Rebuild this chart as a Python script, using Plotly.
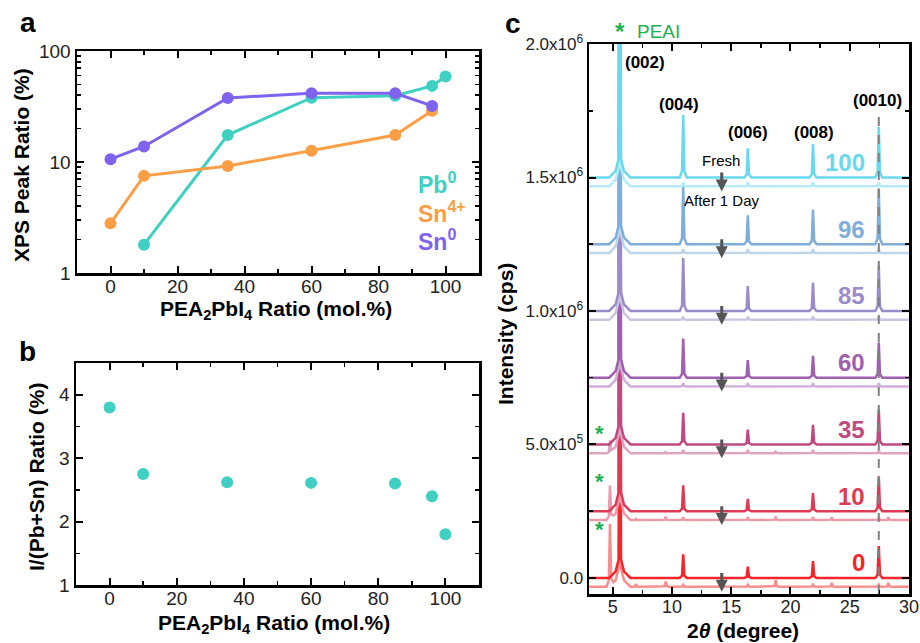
import numpy as np
import plotly.graph_objects as go

FONT = "Liberation Sans"

# ---------------- Panel a data ----------------
pea_ratio = [0, 10, 35, 60, 85, 96, 100]
pb0_x = [10, 35, 60, 85, 96, 100]
pb0_y = [1.8, 17.5, 38.0, 39.5, 48.5, 59.0]
sn4_x = [0, 10, 35, 60, 85, 96]
sn4_y = [2.8, 7.5, 9.2, 12.6, 17.5, 29.0]
sn0_x = [0, 10, 35, 60, 85, 96]
sn0_y = [10.6, 13.8, 37.8, 41.6, 41.6, 32.0]

# ---------------- Panel b data ----------------
iodide_ratio = [3.80, 2.75, 2.62, 2.61, 2.60, 2.40, 1.80]

# ---------------- Panel c data ----------------
samples = ["0", "10", "35", "60", "85", "96", "100"]
fresh_offset = [0, 2.5e5, 5.0e5, 7.5e5, 1.0e6, 1.25e6, 1.5e6]
aged_shift = 3.3e4
fresh_colors = ["#f5262a", "#dc3a55", "#c04a80", "#a060b0", "#9a8cc9", "#7eaed9", "#6ad8ee"]
aged_colors = ["#f88d8e", "#ec9aa8", "#dfa3bf", "#cfaed7", "#cbc4e4", "#bed6ec", "#b3ecf6"]

peak_pos = [5.6, 10.95, 16.4, 21.9, 27.45]        # (002) (004) (006) (008) (0010)
fresh_h002 = [2.3e6] * 7
fresh_h004 = [0.089e6, 0.097e6, 0.119e6, 0.147e6, 0.198e6, 0.220e6, 0.234e6]
fresh_h006 = [0.042e6, 0.046e6, 0.056e6, 0.066e6, 0.093e6, 0.108e6, 0.109e6]
fresh_h008 = [0.063e6, 0.068e6, 0.074e6, 0.082e6, 0.106e6, 0.130e6, 0.125e6]
fresh_h0010 = [0.120e6, 0.131e6, 0.132e6, 0.132e6, 0.170e6, 0.210e6, 0.190e6]

aged_h002 = [0.35e6] * 7
aged_h_small = [0.008e6, 0.010e6, 0.012e6, 0.012e6, 0.012e6, 0.015e6, 0.015e6]
peai_pos = [4.77, 6.97, 9.47, 18.75, 23.48, 28.26]
peai_h_0 = [0.233e6, 0.010e6, 0.020e6, 0.025e6, 0.015e6, 0.015e6]
peai_h_10 = [0.126e6, 0.004e6, 0.012e6, 0.012e6, 0.010e6, 0.010e6]
peai_h_35 = [0.045e6, 0.0, 0.005e6, 0.006e6, 0.0, 0.0]
peai_heights = [peai_h_0, peai_h_10, peai_h_35, None, None, None, None]

peak_labels = ["(002)", "(004)", "(006)", "(008)", "(0010)"]
peak_label_x = [5.85, 10.6, 16.45, 21.95, 27.3]
peak_label_y = [1.93e6, 1.775e6, 1.67e6, 1.67e6, 1.79e6]

X_MIN, X_MAX = 3.0, 30.0


def profile(pos, h, wide=False):
    if wide:
        dx = [-0.9, -0.35, -0.1, 0.0, 0.1, 0.35, 0.9]
        dy = [0.0, 0.025e6, 0.07e6, h, 0.07e6, 0.025e6, 0.0]
    else:
        dx = [-0.3, -0.1, 0.0, 0.1, 0.3]
        dy = [0.0, 0.1 * h, h, 0.1 * h, 0.0]
    return [pos + d for d in dx], dy


def pattern(base, peaks):
    xs = [X_MIN, X_MAX]
    parts = []
    for p, h, wide in peaks:
        if h <= 0:
            continue
        px, py = profile(p, h, wide)
        xs += px
        parts.append((px, py))
    xs = np.array(sorted(set(xs)))
    ys = np.full(xs.shape, float(base))
    for px, py in parts:
        ys += np.interp(xs, px, py, left=0.0, right=0.0)
    return xs, ys


fig = go.Figure()

# ---- Panel a traces ----
series_a = [
    (pb0_x, pb0_y, "#3fcfc3", "Pb0"),
    (sn4_x, sn4_y, "#fb9e45", "Sn4+"),
    (sn0_x, sn0_y, "#7f63ee", "Sn0"),
]
for xs, ys, col, nm in series_a:
    fig.add_trace(go.Scatter(x=xs, y=ys, mode="lines+markers", name=nm,
                             line=dict(color=col, width=3),
                             marker=dict(color=col, size=12),
                             xaxis="x", yaxis="y", showlegend=False))

# ---- Panel b trace ----
fig.add_trace(go.Scatter(x=pea_ratio, y=iodide_ratio, mode="markers",
                         marker=dict(color="#3fcfc3", size=12),
                         xaxis="x2", yaxis="y2", showlegend=False))

# ---- Panel c traces ----
for i, s in enumerate(samples):
    base_f = fresh_offset[i]
    base_a = base_f - aged_shift
    aged_peaks = [(peak_pos[0], aged_h002[i], True)]
    aged_peaks += [(p, aged_h_small[i], False) for p in peak_pos[1:]]
    if peai_heights[i] is not None:
        aged_peaks += [(p, h, False) for p, h in zip(peai_pos, peai_heights[i])]
    ax_, ay_ = pattern(base_a, aged_peaks)
    fig.add_trace(go.Scatter(x=ax_, y=ay_, mode="lines",
                             line=dict(color=aged_colors[i], width=2.5),
                             xaxis="x3", yaxis="y3", showlegend=False))
    fresh_peaks = [(peak_pos[0], fresh_h002[i], True),
                   (peak_pos[1], fresh_h004[i], False),
                   (peak_pos[2], fresh_h006[i], False),
                   (peak_pos[3], fresh_h008[i], False),
                   (peak_pos[4], fresh_h0010[i], False)]
    fx, fy = pattern(base_f, fresh_peaks)
    fig.add_trace(go.Scatter(x=fx, y=fy, mode="lines",
                             line=dict(color=fresh_colors[i], width=2.5),
                             xaxis="x3", yaxis="y3", showlegend=False))

# dashed reference line at (0010)
fig.add_trace(go.Scatter(x=[peak_pos[4], peak_pos[4]], y=[-0.06e6, 1.75e6], mode="lines",
                         line=dict(color="#808080", width=2, dash="dash"),
                         xaxis="x3", yaxis="y3", showlegend=False))

# ---------------- Layout ----------------
def W(px):
    return px / 920.0


def H(py):
    return 1 - py / 643.0


axis_common = dict(showline=True, linecolor="black", linewidth=2.5, mirror="ticks",
                   ticks="inside", ticklen=7, tickwidth=2, tickcolor="black",
                   showgrid=False, zeroline=False, automargin=False,
                   tickfont=dict(family=FONT, size=19, color="#222"))
xaxis_extra = dict(ticklabelstandoff=-5)

minor_common = dict(ticks="inside", ticklen=4, tickwidth=1.5, tickcolor="black", showgrid=False)

layout = dict(
    template="none",
    width=920, height=643, margin=dict(l=0, r=0, t=0, b=0, pad=0), autosize=False,
    paper_bgcolor="white", plot_bgcolor="white",
    font=dict(family=FONT, color="black"),
    xaxis=dict(domain=[W(77), W(479)], anchor="y", range=[-10, 110],
               tickvals=[0, 20, 40, 60, 80, 100],
               minor=dict(tickvals=[10, 30, 50, 70, 90], **minor_common),
               **axis_common, **xaxis_extra),
    yaxis=dict(domain=[H(273), H(51)], anchor="x", type="log", range=[0, 2],
               tickvals=[1, 10, 100], ticktext=["1", "10", "100"],
               minor=dict(tickvals=[2, 3, 4, 5, 6, 7, 8, 9, 20, 30, 40, 50, 60, 70, 80, 90],
                          **minor_common),
               **axis_common),
    xaxis2=dict(domain=[W(76), W(479)], anchor="y2", range=[-10, 110],
                tickvals=[0, 20, 40, 60, 80, 100],
                minor=dict(tickvals=[10, 30, 50, 70, 90], **minor_common),
                **axis_common, **xaxis_extra),
    yaxis2=dict(domain=[H(585), H(363)], anchor="x2", range=[1, 4.5],
                tickvals=[1, 2, 3, 4],
                minor=dict(tickvals=[1.5, 2.5, 3.5], **minor_common),
                **axis_common),
    xaxis3=dict(domain=[W(589), W(909)], anchor="y3", range=[X_MIN, X_MAX],
                tickvals=[5, 10, 15, 20, 25, 30],
                minor=dict(tickvals=[7.5, 12.5, 17.5, 22.5, 27.5], **minor_common),
                **{**axis_common, "tickfont": dict(family=FONT, size=18, color="#222")},
                **xaxis_extra),
    yaxis3=dict(domain=[H(594), H(44)], anchor="x3", range=[-0.06e6, 2.0e6],
                tickvals=[0, 0.5e6, 1.0e6, 1.5e6, 2.0e6],
                ticktext=["0.0", "5.0x10<sup>5</sup>", "1.0x10<sup>6</sup>",
                          "1.5x10<sup>6</sup>", "2.0x10<sup>6</sup>"],
                minor=dict(tickvals=[0.25e6, 0.75e6, 1.25e6, 1.75e6], **minor_common),
                **{**axis_common, "tickfont": dict(family=FONT, size=17, color="#222")}),
)
fig.update_layout(**layout)

ann = []


def paper_text(x, y, text, size, bold=True, angle=0, color="black", xanchor="center"):
    t = f"<b>{text}</b>" if bold else text
    ann.append(dict(x=W(x), y=H(y), xref="paper", yref="paper", text=t, showarrow=False,
                    textangle=angle, xanchor=xanchor, yanchor="middle",
                    font=dict(family=FONT, size=size, color=color)))


# panel letters
paper_text(28, 22, "a", 28)
paper_text(27, 351, "b", 28)
paper_text(513, 23, "c", 28)

# axis titles
xt = "PEA<sub>2</sub>PbI<sub>4</sub> Ratio (mol.%)"
paper_text(276, 310, xt, 21)
paper_text(274, 624, xt, 21)
paper_text(21, 165, "XPS Peak Ratio (%)", 21, angle=-90)
paper_text(37, 477, "I/(Pb+Sn) Ratio (%)", 21, angle=-90)
paper_text(505, 334, "Intensity (cps)", 21, angle=-90)
paper_text(743, 630, "2<i>θ</i> (degree)", 21)

# panel a legend text
paper_text(416, 183, "Pb<sup>0</sup>", 23, color="#3fcfc3", xanchor="left")
paper_text(416, 212, "Sn<sup>4+</sup>", 23, color="#fb9e45", xanchor="left")
paper_text(416, 240, "Sn<sup>0</sup>", 23, color="#7f63ee", xanchor="left")

# panel c PEAI marker at top
paper_text(620, 31, "*", 24, color="#1fb050")
paper_text(658, 32, "PEAI", 19, bold=False, color="#1fb050")

fig.update_layout(annotations=ann)


def data_text(x, y, text, size, bold=True, color="black", xanchor="center"):
    t = f"<b>{text}</b>" if bold else text
    fig.add_annotation(x=x, y=y, xref="x3", yref="y3", text=t, showarrow=False,
                       xanchor=xanchor, yanchor="middle",
                       font=dict(family=FONT, size=size, color=color))


for lbl, lx, ly in zip(peak_labels, peak_label_x, peak_label_y):
    data_text(lx, ly, lbl, 17, xanchor="left" if lbl == "(002)" else "center")

for i, s in enumerate(samples):
    data_text(26.45, fresh_offset[i] + 0.057e6, s, 24, color=fresh_colors[i], xanchor="right")
    fig.add_annotation(x=14.2, y=fresh_offset[i] - 0.052e6, ax=14.2, ay=fresh_offset[i] + 0.024e6,
                       xref="x3", yref="y3", axref="x3", ayref="y3", text="",
                       showarrow=True, arrowhead=2, arrowsize=0.8, arrowwidth=3,
                       arrowcolor="#555555")

data_text(14.1, 1.565e6, "Fresh", 15, bold=False)
data_text(14.25, 1.415e6, "After 1 Day", 15, bold=False)

for sy in [0.54e6, 0.362e6, 0.183e6]:
    data_text(3.85, sy, "*", 22, color="#1fb050")

fig.write_html("out.html",
               config={"displayModeBar": False, "staticPlot": True},
               post_script="document.body.style.margin='0';document.body.style.overflow='hidden';")
